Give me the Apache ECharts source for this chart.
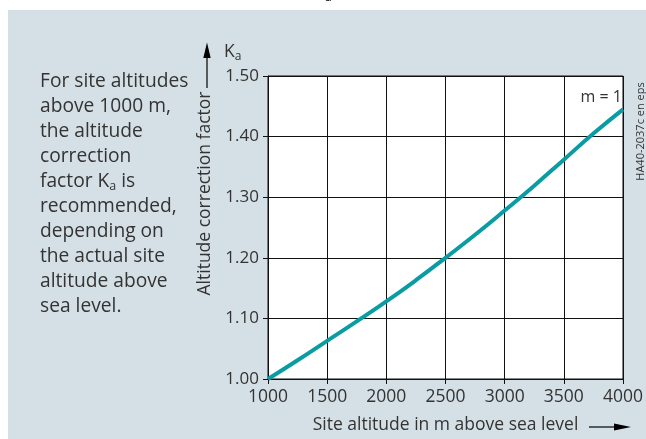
<!DOCTYPE html>
<html>
<head>
<meta charset="utf-8">
<script src="https://cdn.jsdelivr.net/npm/echarts@6/dist/echarts.min.js"></script>
<style>
  html, body { margin: 0; padding: 0; background: #ffffff; }
  #chart { width: 646px; height: 439px; }
</style>
</head>
<body>
<div id="chart"></div>
<script>
// Altitude correction factor Ka versus site altitude (m = 1)
const altitudes = [1000, 1250, 1500, 1750, 2000, 2250, 2500, 2750, 3000, 3250, 3500, 3750, 4000];
const kaValues  = [1.000, 1.031, 1.063, 1.095, 1.128, 1.163, 1.200, 1.238, 1.278, 1.319, 1.362, 1.405, 1.445];
const xTicks = [1000, 1500, 2000, 2500, 3000, 3500, 4000];
const yTicks = [1.00, 1.10, 1.20, 1.30, 1.40, 1.50];

const FONT = '"Open Sans", "Noto Sans", sans-serif';
const TEXT = '#333333';
const PANEL = '#d5e0e6';
const TEAL = '#0a9ca3';

const chart = echarts.init(document.getElementById('chart'), null, { renderer: 'canvas' });

const noteLines = [
  '{n|For site altitudes}',
  '{n|above 1000 m,}',
  '{n|the altitude}',
  '{n|correction}',
  '{n|factor K}{s|a}{n| is}',
  '{n|recommended,}',
  '{n|depending on}',
  '{n|the actual site}',
  '{n|altitude above}',
  '{n|sea level.}'
];

const richNote = {
  n: { fontSize: 19.2, fontFamily: FONT, fill: TEXT },
  s: { fontSize: 12.5, fontFamily: FONT, fill: TEXT, padding: [9, 0, 0, 0] }
};

const graphics = [
  // background panel
  { type: 'rect', z: -10, silent: true, shape: { x: 8, y: 10, width: 638, height: 429 }, style: { fill: PANEL } },
  // cut-off subscript of the heading above the panel
  { type: 'text', left: 325, top: -8, style: { text: 'a', fontSize: 12, fontFamily: FONT, fill: '#000' } },
  // vertical axis arrow
  { type: 'line', shape: { x1: 207, y1: 57, x2: 207, y2: 88 }, style: { stroke: '#000', lineWidth: 1.2 } },
  { type: 'polygon', shape: { points: [[207, 42.5], [203.3, 58], [210.7, 58]] }, style: { fill: '#000' } },
  // Ka symbol
  { type: 'text', left: 224, top: 43, style: { text: '{n|K}{s|a}', rich: {
      n: { fontSize: 17.5, fontFamily: FONT, fill: TEXT },
      s: { fontSize: 12, fontFamily: FONT, fill: TEXT, padding: [9, 0, 0, 0] } } } },
  // horizontal axis arrow
  { type: 'line', shape: { x1: 589, y1: 427, x2: 616, y2: 427 }, style: { stroke: '#000', lineWidth: 1.2 } },
  { type: 'polygon', shape: { points: [[631, 427], [614, 423.5], [614, 430.5]] }, style: { fill: '#000' } },
  // curve label
  { type: 'text', x: 622, y: 97.7, style: { text: 'm = 1', fontSize: 16, fontFamily: FONT, fill: TEXT, align: 'right', verticalAlign: 'middle' } },
  // drawing reference
  { type: 'text', x: 640.5, y: 131.5, rotation: Math.PI / 2,
    style: { text: 'HA40-2037c en eps', fontSize: 11, fontFamily: FONT, fill: TEXT, align: 'center', verticalAlign: 'middle' } }
];

noteLines.forEach(function (line, i) {
  graphics.push({
    type: 'text', left: 40, top: 72 + i * 25,
    style: { text: line, rich: richNote }
  });
});

const option = {
  animation: false,
  backgroundColor: 'transparent',
  grid: { left: 268, top: 76, width: 360, height: 306, show: true, backgroundColor: '#ffffff', borderColor: '#111', borderWidth: 1 },
  xAxis: {
    type: 'value', min: xTicks[0], max: xTicks[xTicks.length - 1], interval: 500,
    name: 'Site altitude in m above sea level', nameLocation: 'middle', nameGap: 37,
    nameTextStyle: { fontSize: 17.5, fontFamily: FONT, color: TEXT },
    axisLine: { show: true, lineStyle: { color: '#111', width: 1 } },
    axisTick: { show: true, length: 5, lineStyle: { color: '#111' } },
    axisLabel: { fontSize: 17.5, fontFamily: FONT, color: TEXT, margin: 9, hideOverlap: false, showMaxLabel: true, showMinLabel: true,
      formatter: function (v) { return String(v); } },
    splitLine: { show: true, lineStyle: { color: '#111', width: 1 } }
  },
  yAxis: {
    type: 'value', min: yTicks[0], max: yTicks[yTicks.length - 1], interval: 0.1,
    name: 'Altitude correction factor', nameLocation: 'middle', nameRotate: 90, nameGap: 52,
    nameTextStyle: { fontSize: 17.5, fontFamily: FONT, color: TEXT, padding: [0, 0, 0, 68] },
    axisLine: { show: true, lineStyle: { color: '#111', width: 1 } },
    axisTick: { show: true, length: 5, lineStyle: { color: '#111' } },
    axisLabel: { fontSize: 17, fontFamily: FONT, color: TEXT, margin: 9, formatter: function (v) { return v.toFixed(2); } },
    splitLine: { show: true, lineStyle: { color: '#111', width: 1 } }
  },
  series: [{
    type: 'line',
    data: altitudes.map(function (a, i) { return [a, kaValues[i]]; }),
    smooth: true,
    showSymbol: false,
    clip: true,
    lineStyle: { color: TEAL, width: 4 }
  }],
  graphic: graphics
};

chart.setOption(option);
</script>
</body>
</html>
